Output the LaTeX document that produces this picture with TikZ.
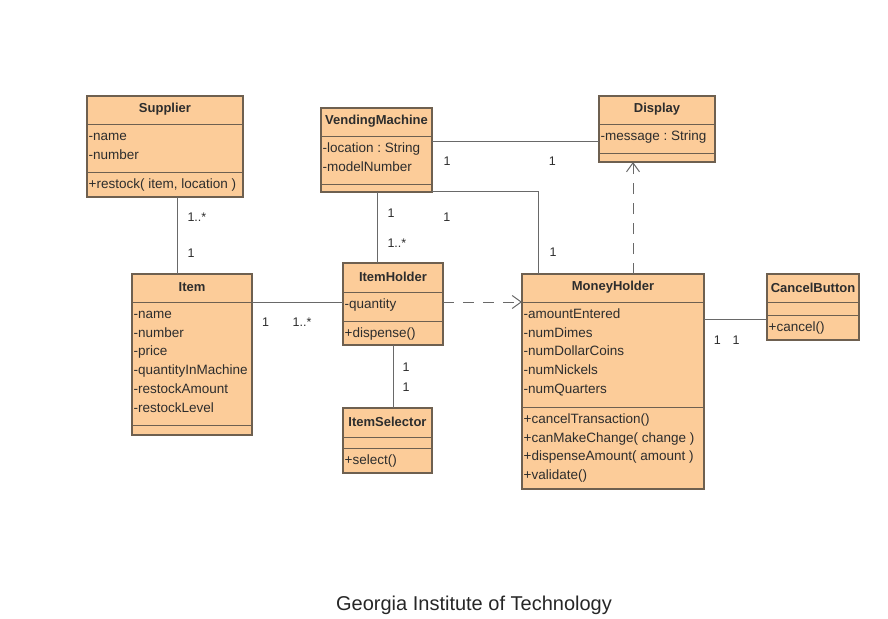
\documentclass[tikz,border=0pt]{standalone}
\usepackage{fontspec}
\setmainfont{Liberation Sans}
\usetikzlibrary{arrows.meta,calc,positioning}
\frenchspacing

\definecolor{classfill}{RGB}{252,204,153}
\definecolor{classdraw}{RGB}{110,96,80}
\definecolor{linkgray}{RGB}{105,105,105}
\definecolor{textgray}{RGB}{45,45,45}

% box, title and the two compartment lines of one class
\newcommand{\umlclass}[8]{%
  \node[classbox, minimum width=#4pt, minimum height=#5pt] (#1) at (#2,#3) {};
  \draw[classline] ($(#1.north west)+(0,#6)$) -- ($(#1.north east)+(0,#6)$);
  \draw[classline] ($(#1.north west)+(0,#7)$) -- ($(#1.north east)+(0,#7)$);
  \node[classtitle] (#1-t) at ($(#1.north)+(0,#6/2-0.5)$) {#8};
}
% rows of a compartment, starting below the line at #3
\newcommand{\umlrows}[4]{%
  \foreach \mtext [count=\i] in {#4}
    \node[member] (#1-#2\i) at ($(#1.north west)+(1.5,#3+12.8+18.8*\i-18.8)$) {\mtext};
}

\begin{document}
\begin{tikzpicture}[x=1pt,y=-1pt]
\tikzstyle{classbox}=[draw=classdraw,fill=classfill,line width=1.1pt,anchor=north west,inner sep=0pt,outer sep=0pt]
\tikzstyle{classline}=[draw=classdraw,line width=1pt]
\tikzstyle{classtitle}=[font=\fontsize{13}{15}\selectfont\bfseries,text=textgray,inner sep=0pt]
\tikzstyle{member}=[font=\fontsize{13.5}{16}\selectfont,text=textgray,anchor=west,inner sep=0pt,text height=9.7pt,text depth=2.8pt]
\tikzstyle{link}=[draw=linkgray,line width=1pt]
\tikzstyle{depend}=[link,dash pattern=on 11pt off 9pt,-{Straight Barb[length=9pt,width=13pt]}]
\tikzstyle{mult}=[font=\fontsize{12.5}{14}\selectfont,text=textgray,inner sep=0pt]

\useasboundingbox (0,0) rectangle (888,618);

% classes
\umlclass{sup}{87}{96}{156}{101}{28}{76}{Supplier}
\umlrows{sup}{a}{28}{-name,-number}
\umlrows{sup}{m}{76}{{+restock( item, location )}}

\umlclass{vm}{321}{108}{111}{84}{28}{76}{VendingMachine}
\umlrows{vm}{a}{28}{-location : String,-modelNumber}

\umlclass{disp}{599}{96}{116}{66}{28}{57}{Display}
\umlrows{disp}{a}{28}{-message : String}

\umlclass{item}{132}{274}{120}{161}{28}{151}{Item}
\umlrows{item}{a}{28}{-name,-number,-price,-quantityInMachine,-restockAmount,-restockLevel}

\umlclass{ih}{343}{263}{100}{82}{29}{58}{ItemHolder}
\umlrows{ih}{a}{29}{-quantity}
\umlrows{ih}{m}{58}{+dispense()}

\umlclass{is}{343}{408}{89}{65}{29}{40}{ItemSelector}
\umlrows{is}{m}{40}{+select()}

\umlclass{mh}{522}{274}{182}{215}{28}{133}{MoneyHolder}
\umlrows{mh}{a}{28}{-amountEntered,-numDimes,-numDollarCoins,-numNickels,-numQuarters}
\umlrows{mh}{m}{133}{+cancelTransaction(),+canMakeChange( change ),+dispenseAmount( amount ),+validate()}

\umlclass{cb}{767}{274}{92}{66}{28}{41}{CancelButton}
\umlrows{cb}{m}{41}{+cancel()}

% associations
\path ($(sup.south west)+(90,0)$) coordinate (si1);
\draw[link] (si1) -- (si1 |- item.north)
  node[mult, pos=0.26, anchor=west, xshift=10pt] (si-a) {1..*}
  node[mult, pos=0.73, anchor=west, xshift=10pt] (si-b) {1};

\path ($(vm.south west)+(56,0)$) coordinate (vi1);
\draw[link] (vi1) -- (vi1 |- ih.north)
  node[mult, pos=0.30, anchor=west, xshift=10pt] (vi-a) {1}
  node[mult, pos=0.72, anchor=west, xshift=10pt] (vi-b) {1..*};

\path ($(vm.north east)+(0,33)$) coordinate (vd1);
\draw[link] (vd1) -- (vd1 -| disp.west)
  node[mult, pos=0.09, yshift=-20pt] (vd-a) {1}
  node[mult, pos=0.72, yshift=-20pt] (vd-b) {1};

\path ($(vm.south east)+(0,-1)$) coordinate (vm1);
\path ($(mh.north west)+(16,0)$) coordinate (vm2);
\draw[link] (vm1) -| (vm2)
  node[mult, pos=0.07, yshift=-26pt] (vm-a) {1}
  node[mult, pos=0.87, anchor=west, xshift=11pt] (vm-b) {1};

\path ($(item.north east)+(0,28)$) coordinate (ii1);
\draw[link] (ii1) -- (ii1 -| ih.west)
  node[mult, pos=0.15, yshift=-20pt] (ii-a) {1}
  node[mult, pos=0.55, yshift=-20pt] (ii-b) {1..*};

\draw[link] (ih.south) -- (ih.south |- is.north)
  node[mult, pos=0.35, xshift=13pt] (hs-a) {1}
  node[mult, pos=0.67, xshift=13pt] (hs-b) {1};

\path ($(mh.north east)+(0,45)$) coordinate (mc1);
\draw[link] (mc1) -- (mc1 -| cb.west)
  node[mult, pos=0.21, yshift=-21pt] (mc-a) {1}
  node[mult, pos=0.51, yshift=-21pt] (mc-b) {1};

% dependencies
\draw[depend] (ih.east |- ii1) -- (mh.west |- ii1);
\path ($(mh.north west)+(111,0)$) coordinate (md1);
\draw[depend] (md1) -- (md1 |- disp.south);

\node[font=\fontsize{20}{24}\selectfont,text=black!85,anchor=base] (caption) at (474,610) {Georgia Institute of Technology};
\end{tikzpicture}
\end{document}
